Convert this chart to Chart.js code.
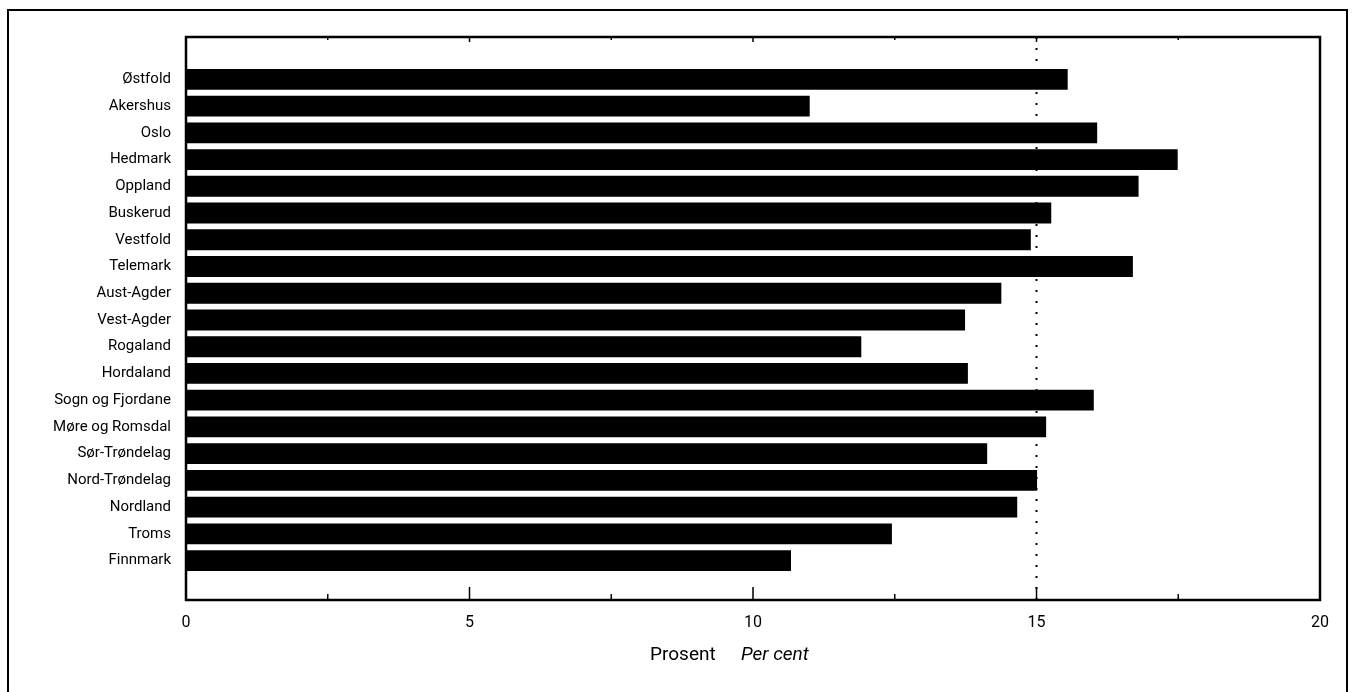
<!DOCTYPE html>
<html>
<head>
<meta charset="utf-8">
<script src="https://cdn.jsdelivr.net/npm/chart.js@4"></script>
<style>
  html, body { margin: 0; padding: 0; background: #fff; }
  #wrap { position: relative; width: 1355px; height: 692px; }
</style>
</head>
<body>
<div id="wrap"><canvas id="c"></canvas></div>
<script>
const categories = ["Østfold", "Akershus", "Oslo", "Hedmark", "Oppland", "Buskerud", "Vestfold", "Telemark", "Aust-Agder", "Vest-Agder", "Rogaland", "Hordaland", "Sogn og Fjordane", "Møre og Romsdal", "Sør-Trøndelag", "Nord-Trøndelag", "Nordland", "Troms", "Finnmark"];
const values = [15.55, 11.0, 16.07, 17.49, 16.8, 15.26, 14.9, 16.7, 14.38, 13.74, 11.91, 13.79, 16.01, 15.17, 14.13, 15.01, 14.66, 12.45, 10.67];
const xTickValues = [0, 5, 10, 15, 20];
const xMinorTicks = [2.5, 7.5, 12.5, 17.5];
const referenceValue = 15;
const axisTitleNo = "Prosent";
const axisTitleEn = "Per cent";

const FONT = "'Liberation Sans Narrow', 'Roboto', 'Liberation Sans', Arial, sans-serif";

const decor = {
  id: 'decor',
  beforeDraw(chart) {
    const ctx = chart.ctx;
    ctx.save();
    ctx.strokeStyle = '#000';
    ctx.lineWidth = 2;
    ctx.beginPath();
    ctx.moveTo(8, 692);
    ctx.lineTo(8, 10);
    ctx.lineTo(1347, 10);
    ctx.lineTo(1347, 692);
    ctx.stroke();
    ctx.restore();
  },
  beforeDatasetsDraw(chart) {
    const ctx = chart.ctx, a = chart.chartArea, xs = chart.scales.x;
    ctx.save();
    ctx.strokeStyle = '#000';
    const rx = xs.getPixelForValue(referenceValue);
    ctx.lineWidth = 2;
    ctx.setLineDash([2, 9]);
    ctx.beginPath();
    ctx.moveTo(rx, a.top);
    ctx.lineTo(rx, a.bottom);
    ctx.stroke();
    ctx.setLineDash([]);
    ctx.lineWidth = 1.5;
    xTickValues.forEach(v => {
      const px = xs.getPixelForValue(v);
      ctx.beginPath();
      ctx.moveTo(px, a.bottom); ctx.lineTo(px, a.bottom - 13);
      ctx.moveTo(px, a.top); ctx.lineTo(px, a.top + 5);
      ctx.stroke();
    });
    xMinorTicks.forEach(v => {
      const px = xs.getPixelForValue(v);
      ctx.beginPath();
      ctx.moveTo(px, a.bottom); ctx.lineTo(px, a.bottom - 6);
      ctx.moveTo(px, a.top); ctx.lineTo(px, a.top + 3);
      ctx.stroke();
    });
    ctx.restore();
  },
  afterDraw(chart) {
    const ctx = chart.ctx, a = chart.chartArea;
    ctx.save();
    ctx.strokeStyle = '#000';
    ctx.lineWidth = 2.5;
    ctx.strokeRect(a.left, a.top, a.right - a.left, a.bottom - a.top);
    ctx.fillStyle = '#000';
    ctx.textBaseline = 'middle';
    ctx.textAlign = 'left';
    ctx.font = "19px " + FONT;
    ctx.fillText(axisTitleNo, 650, 655);
    ctx.font = "italic 19px " + FONT;
    ctx.fillText(axisTitleEn, 741, 655);
    ctx.restore();
  }
};

new Chart(document.getElementById('c'), {
  type: 'bar',
  data: {
    datasets: [{
      data: values.map((v, i) => ({ x: v, y: i })),
      backgroundColor: '#000',
      borderWidth: 0,
      barPercentage: 0.78,
      categoryPercentage: 1.0
    }]
  },
  options: {
    indexAxis: 'y',
    responsive: true,
    maintainAspectRatio: false,
    animation: false,
    layout: { padding: { left: 0, top: 37, right: 35, bottom: 52 } },
    plugins: { legend: { display: false }, tooltip: { enabled: false } },
    scales: {
      x: {
        type: 'linear',
        min: 0, max: 20,
        afterBuildTicks(scale) { scale.ticks = xTickValues.map(v => ({ value: v })); },
        afterFit(scale) { scale.height = 40; },
        grid: { display: false, drawTicks: false },
        border: { display: false },
        ticks: { color: '#000', font: { family: FONT, size: 16 }, padding: 13, maxRotation: 0 }
      },
      y: {
        type: 'linear',
        reverse: true,
        min: -1.03, max: 18.92,
        afterBuildTicks(scale) { scale.ticks = categories.map((c, i) => ({ value: i })); },
        afterFit(scale) { scale.width = 186; },
        grid: { display: false, drawTicks: false },
        border: { display: false },
        ticks: {
          color: '#000', font: { family: FONT, size: 15 }, padding: 15, autoSkip: false,
          callback: (v) => categories[v] ?? ''
        }
      }
    }
  },
  plugins: [decor]
});
</script>
</body>
</html>
